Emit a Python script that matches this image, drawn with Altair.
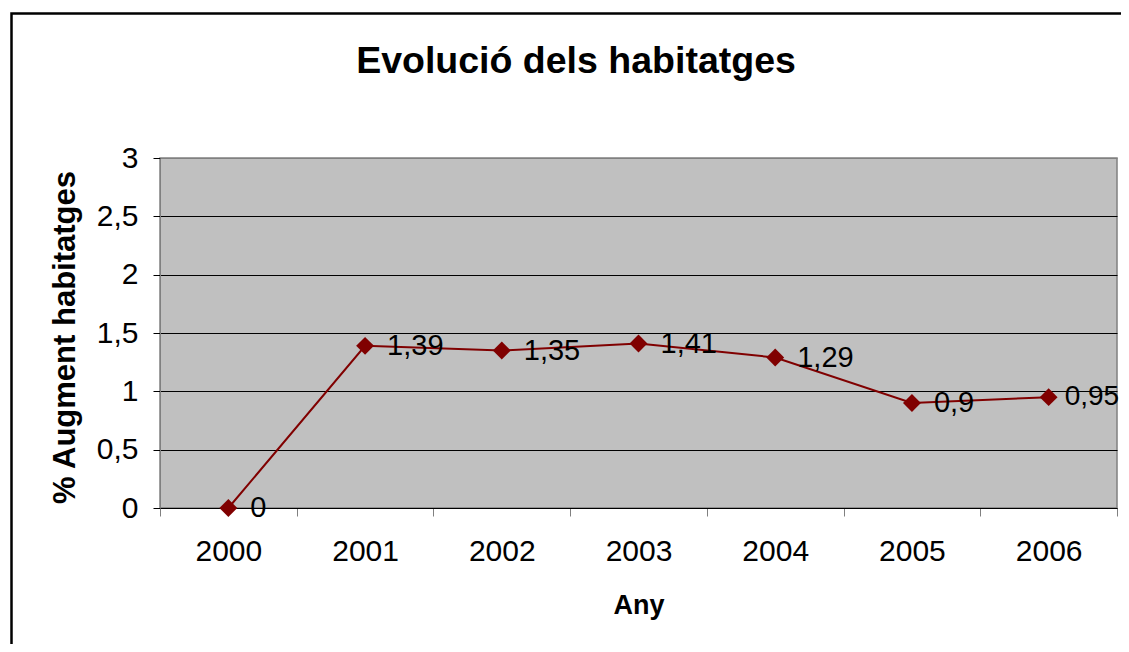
import altair as alt
import pandas as pd

years = ["2000", "2001", "2002", "2003", "2004", "2005", "2006"]
values = [0, 1.39, 1.35, 1.41, 1.29, 0.9, 0.95]
y_ticks = [0, 0.5, 1, 1.5, 2, 2.5, 3]
title_text = "Evolució dels habitatges"

FONT = "Liberation Sans"
df = pd.DataFrame({"Any": years, "valor": values})

x_enc = alt.X(
    "Any:N",
    sort=years,
    bandPosition=0.5,
    scale=alt.Scale(type="band", paddingInner=0, paddingOuter=0),
    axis=alt.Axis(
        title="Any",
        titleFont=FONT,
        titleFontSize=27,
        titleFontWeight="bold",
        titleColor="black",
        titleY=105,
        titleBaseline="alphabetic",
        labelFont=FONT,
        labelFontSize=30,
        labelColor="black",
        labelAngle=0,
        labelPadding=20,
        tickBand="extent",
        tickSize=8,
        tickColor="#808080",
        domainColor="black",
        grid=False,
    ),
)

y_enc = alt.Y(
    "valor:Q",
    scale=alt.Scale(domain=[0, 3], nice=False),
    axis=alt.Axis(
        values=y_ticks,
        title="% Augment habitatges",
        titleFont=FONT,
        titleFontSize=31,
        titleFontWeight="bold",
        titleColor="black",
        titleAngle=-90,
        titleX=-86,
        titleY=179,
        titleBaseline="alphabetic",
        labelFont=FONT,
        labelFontSize=30,
        labelColor="black",
        labelPadding=15,
        labelExpr="replace(toString(datum.value), '.', ',')",
        tickSize=7,
        tickColor="black",
        domainColor="#808080",
        gridColor={"condition": {"test": "datum.value >= 3", "value": "#808080"}, "value": "black"},
        gridWidth=1,
    ),
)

one = pd.DataFrame({"t": [title_text]})

border = alt.Chart(one).mark_rect(
    fillOpacity=0, stroke="black", strokeWidth=2.5
).encode(
    x=alt.value(-148.5), x2=alt.value(1100), y=alt.value(-144.5), y2=alt.value(600)
)

title = alt.Chart(one).mark_text(
    font=FONT, fontSize=37.5, fontWeight="bold", color="black", align="center", baseline="alphabetic"
).encode(text="t:N", x=alt.value(416), y=alt.value(-85))

base = alt.Chart(df).encode(x=x_enc, y=y_enc)

line = base.mark_line(color="#800000", strokeWidth=2)
points = base.mark_point(shape="diamond", filled=True, size=320, color="#800000", opacity=1)
lab_base = base.transform_calculate(lab="replace(toString(datum.valor), '.', ',')")
labels = lab_base.transform_filter(f"datum.Any != '{years[-1]}'").mark_text(
    align="left", baseline="middle", dx=22, font=FONT, fontSize=29, color="black"
).encode(text="lab:N")
labels_last = lab_base.transform_filter(f"datum.Any == '{years[-1]}'").mark_text(
    align="left", baseline="middle", dx=16, font=FONT, fontSize=28, color="black"
).encode(text="lab:N")

chart = alt.layer(border, title, line, points, labels, labels_last).properties(
    width=957,
    height=350,
    background="white",
    autosize=alt.AutoSizeParams(type="none"),
    padding={"left": 152, "top": 150, "right": 4, "bottom": 136},
).configure_view(fill="#C0C0C0", stroke="#808080", strokeWidth=1.5)

chart.save("out.html", embed_options={"renderer": "svg", "actions": False})
